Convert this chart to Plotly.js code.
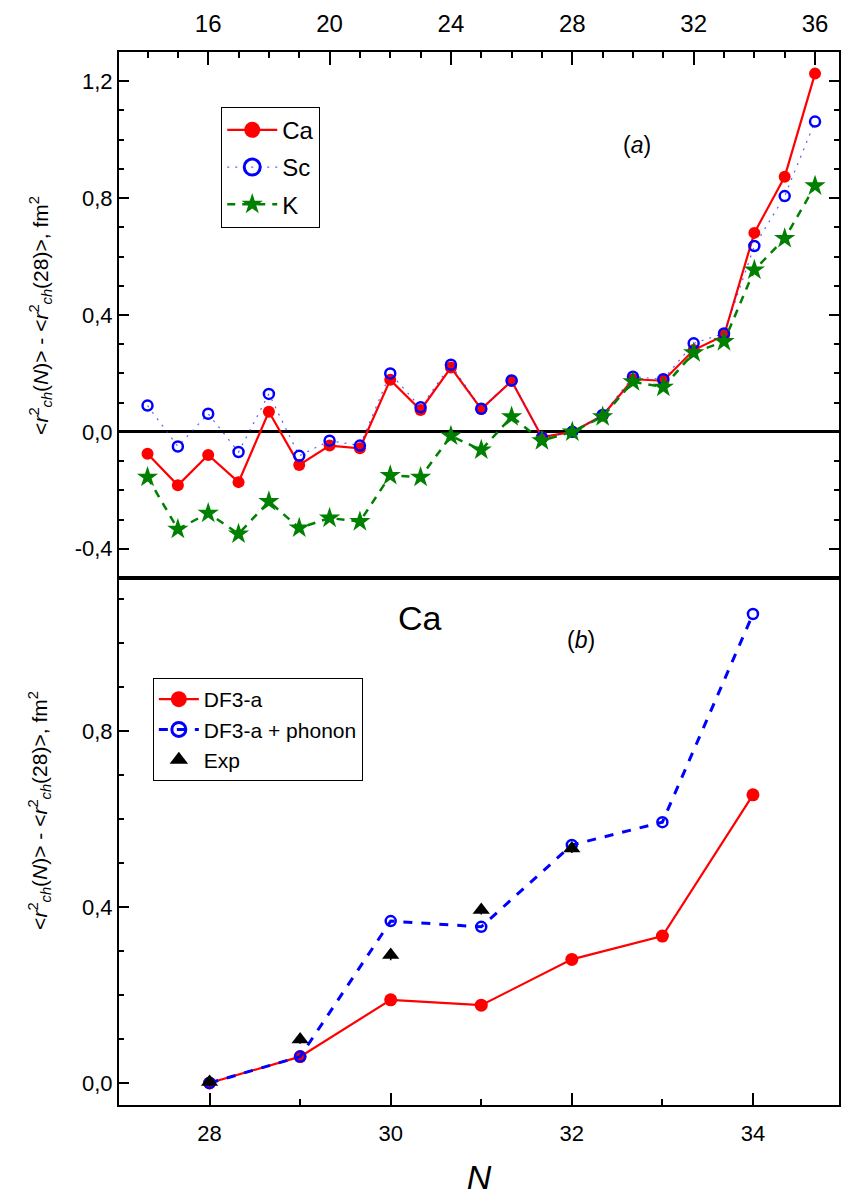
<!DOCTYPE html>
<html>
<head>
<meta charset="utf-8">
<script src="https://cdn.plot.ly/plotly-3.0.1.min.js"></script>
<style>html,body{margin:0;padding:0;background:#fff;}#chart{width:842px;height:1199px;}</style>
</head>
<body>
<div id="chart"></div>
<script>
// ---- Panel (a) data ----
const N_a = [14,15,16,17,18,19,20,21,22,23,24,25,26,27,28,29,30,31,32,33,34,35,36];
const ca  = [-0.075,-0.183,-0.079,-0.172,0.069,-0.113,-0.047,-0.056,0.178,0.075,0.220,0.078,0.174,-0.018,0.0,0.056,0.180,0.175,0.280,0.330,0.681,0.873,1.226];
const sc  = [0.090,-0.050,0.062,-0.069,0.130,-0.082,-0.030,-0.047,0.200,0.084,0.230,0.079,0.176,-0.020,0.0,0.058,0.189,0.180,0.303,0.337,0.636,0.807,1.062];
const kk  = [-0.155,-0.333,-0.278,-0.349,-0.238,-0.329,-0.295,-0.307,-0.149,-0.155,-0.014,-0.062,0.052,-0.030,0.0,0.052,0.172,0.153,0.271,0.309,0.554,0.662,0.842];

// ---- Panel (b) data ----
const N_b   = [28,29,30,31,32,33,34];
const df3   = [0.0,0.060,0.189,0.177,0.281,0.334,0.655];
const phon  = [0.0,0.060,0.368,0.355,0.541,0.593,1.066];
const N_exp = [28,29,30,31,32];
const expV  = [0.002,0.099,0.291,0.393,0.533];
const expErr= [0.01,0.01,0.012,0.01,0.01];

// ---- tick labels ----
const yaTickVals = [-0.4,0.0,0.4,0.8,1.2];
const yaTickText = ['-0,4','0,0','0,4','0,8','1,2'];
const ybTickVals = [0.0,0.4,0.8];
const ybTickText = ['0,0','0,4','0,8'];
const xaTickVals = [16,20,24,28,32,36];
const xbTickVals = [28,30,32,34];

const FONT = '"Liberation Sans", Arial, sans-serif';
const RED = '#ff0000', BLUE = '#0000ff', GREEN = '#008000';

const styleCa  = {line:{color:RED, width:2.2}, marker:{symbol:'circle', size:12, color:RED}};
const styleSc  = {line:{color:'rgba(40,40,255,0.75)', width:1.2, dash:'2px,6px'},
                  marker:{symbol:'circle-open', size:10, color:BLUE, line:{width:2.5, color:BLUE}}};
const styleK   = {line:{color:GREEN, width:2.5, dash:'8px,7px'}, marker:{symbol:'star', size:16, color:GREEN}};
const styleDF  = {line:{color:RED, width:2.2}, marker:{symbol:'circle', size:13, color:RED}};
const stylePh  = {line:{color:BLUE, width:3, dash:'9px,9px'},
                  marker:{symbol:'circle-open', size:10, color:BLUE, line:{width:2.5, color:BLUE}}};
const styleExp = {marker:{symbol:'triangle-up', size:15, color:'#000'}};

function legendTrace(name, st, mode, xa, ya, lg, grp, msize, lw) {
  const m = JSON.parse(JSON.stringify(st.marker));
  m.size = msize;
  if (lw && m.line) m.line.width = lw;
  const t = {x:[null], y:[null], name:name, type:'scatter', mode:mode, xaxis:xa, yaxis:ya,
             legend:lg, legendgroup:grp, showlegend:true, marker:m, hoverinfo:'skip'};
  if (st.line) t.line = st.line;
  return t;
}

const traces = [
  Object.assign({x:N_a, y:ca, name:'Ca', type:'scatter', mode:'lines+markers', xaxis:'x', yaxis:'y', showlegend:false}, styleCa),
  Object.assign({x:N_a, y:sc, name:'Sc', type:'scatter', mode:'lines+markers', xaxis:'x', yaxis:'y', showlegend:false}, styleSc),
  Object.assign({x:N_a, y:kk, name:'K', type:'scatter', mode:'lines+markers', xaxis:'x', yaxis:'y', showlegend:false}, styleK),
  Object.assign({x:N_b, y:df3, name:'DF3-a', type:'scatter', mode:'lines+markers', xaxis:'x2', yaxis:'y2', showlegend:false}, styleDF),
  Object.assign({x:N_b, y:phon, name:'DF3-a + phonon', type:'scatter', mode:'lines+markers', xaxis:'x2', yaxis:'y2', showlegend:false}, stylePh),
  Object.assign({x:N_exp, y:expV, name:'Exp', type:'scatter', mode:'markers', xaxis:'x2', yaxis:'y2', showlegend:false,
   error_y:{type:'data', array:expErr, visible:true, color:'#000', thickness:1.5, width:0}}, styleExp),
  // legend entries (no data drawn)
  legendTrace('Ca', styleCa, 'lines+markers', 'x', 'y', 'legend', 'a1', 16),
  legendTrace('Sc', styleSc, 'lines+markers', 'x', 'y', 'legend', 'a2', 16, 3),
  legendTrace('K', styleK, 'lines+markers', 'x', 'y', 'legend', 'a3', 16),
  legendTrace('DF3-a', styleDF, 'lines+markers', 'x2', 'y2', 'legend2', 'b1', 16),
  legendTrace('DF3-a + phonon', stylePh, 'lines+markers', 'x2', 'y2', 'legend2', 'b2', 14, 3),
  legendTrace('Exp', styleExp, 'markers', 'x2', 'y2', 'legend2', 'b3', 16)
];

const yTitle = '&lt;<i>r</i><sup>2</sup><sub><i>ch</i></sub>(<i>N</i>)&gt; - &lt;<i>r</i><sup>2</sup><sub><i>ch</i></sub>(28)&gt;, fm<sup>2</sup>';

const axCommon = {showline:true, linecolor:'#000', linewidth:2, showgrid:false, ticks:'inside',
  tickcolor:'#000', tickwidth:2, tickfont:{family:FONT, size:22, color:'#000'}};

const layout = {
  width:842, height:1199,
  margin:{l:119, r:3, t:52, b:94},
  paper_bgcolor:'#fff', plot_bgcolor:'#fff',
  font:{family:FONT, color:'#000'},
  separators:', ',
  xaxis: Object.assign({}, axCommon, {
    anchor:'y', side:'top', range:[13.06, 36.79], mirror:true,
    tickmode:'array', tickvals:xaTickVals, ticktext:xaTickVals.map(String), ticklen:13,
    tickfont:{family:FONT, size:24, color:'#000'}, ticklabelstandoff:8,
    minor:{dtick:1, tick0:0, ticks:'inside', ticklen:6, tickwidth:2, tickcolor:'#000'},
    zeroline:false
  }),
  yaxis: Object.assign({}, axCommon, {
    anchor:'x', domain:[0.5005, 1], range:[-0.5, 1.3], mirror:'ticks',
    tickmode:'array', tickvals:yaTickVals, ticktext:yaTickText, ticklen:10,
    minor:{dtick:0.1, tick0:0, ticks:'inside', ticklen:5, tickwidth:2, tickcolor:'#000'},
    zeroline:true, zerolinecolor:'#000', zerolinewidth:3
  }),
  xaxis2: Object.assign({}, axCommon, {
    anchor:'y2', side:'bottom', range:[27.0, 34.95], mirror:true,
    tickmode:'array', tickvals:xbTickVals, ticktext:xbTickVals.map(String), ticklen:12,
    ticklabelstandoff:8,
    minor:{dtick:1, tick0:0, ticks:'inside', ticklen:6, tickwidth:2, tickcolor:'#000'},
    zeroline:false,
    title:{text:'<i>N</i>', font:{family:FONT, size:34, color:'#000'}, standoff:20}
  }),
  yaxis2: Object.assign({}, axCommon, {
    anchor:'x2', domain:[0, 0.5005], range:[-0.05, 1.148], mirror:true,
    tickmode:'array', tickvals:ybTickVals, ticktext:ybTickText, ticklen:10,
    minor:{dtick:0.1, tick0:0, ticks:'inside', ticklen:5, tickwidth:2, tickcolor:'#000'},
    zeroline:false
  }),
  legend:{x:0.142, y:0.948, xanchor:'left', yanchor:'top', bordercolor:'#000', borderwidth:1,
    bgcolor:'#fff', font:{family:FONT, size:24, color:'#000'}, itemwidth:50,
    traceorder:'grouped', tracegroupgap:3},
  legend2:{x:0.047, y:0.4055, xanchor:'left', yanchor:'top', bordercolor:'#000', borderwidth:1,
    bgcolor:'#fff', font:{family:FONT, size:21, color:'#000'}, itemwidth:40,
    traceorder:'grouped', tracegroupgap:0},
  annotations:[
    {xref:'paper', yref:'paper', x:(40-119)/719, y:(1105-315)/1053, text:yTitle, textangle:-90,
     showarrow:false, font:{family:FONT, size:21, color:'#000'}, xanchor:'center', yanchor:'middle'},
    {xref:'paper', yref:'paper', x:(40-119)/719, y:(1105-810)/1053, text:yTitle, textangle:-90,
     showarrow:false, font:{family:FONT, size:21, color:'#000'}, xanchor:'center', yanchor:'middle'},
    {xref:'paper', yref:'paper', x:(652-119)/719, y:(1105-130)/1053, text:'(<i>a</i>)',
     showarrow:false, font:{family:FONT, size:23, color:'#000'}},
    {xref:'paper', yref:'paper', x:(420-119)/719, y:(1105-618)/1053, text:'Ca',
     showarrow:false, font:{family:FONT, size:34, color:'#000'}},
    {xref:'paper', yref:'paper', x:(580-119)/719, y:(1105-640)/1053, text:'(<i>b</i>)',
     showarrow:false, font:{family:FONT, size:23, color:'#000'}}
  ]
};

Plotly.newPlot('chart', traces, layout, {displayModeBar:false, staticPlot:true});
</script>
</body>
</html>
